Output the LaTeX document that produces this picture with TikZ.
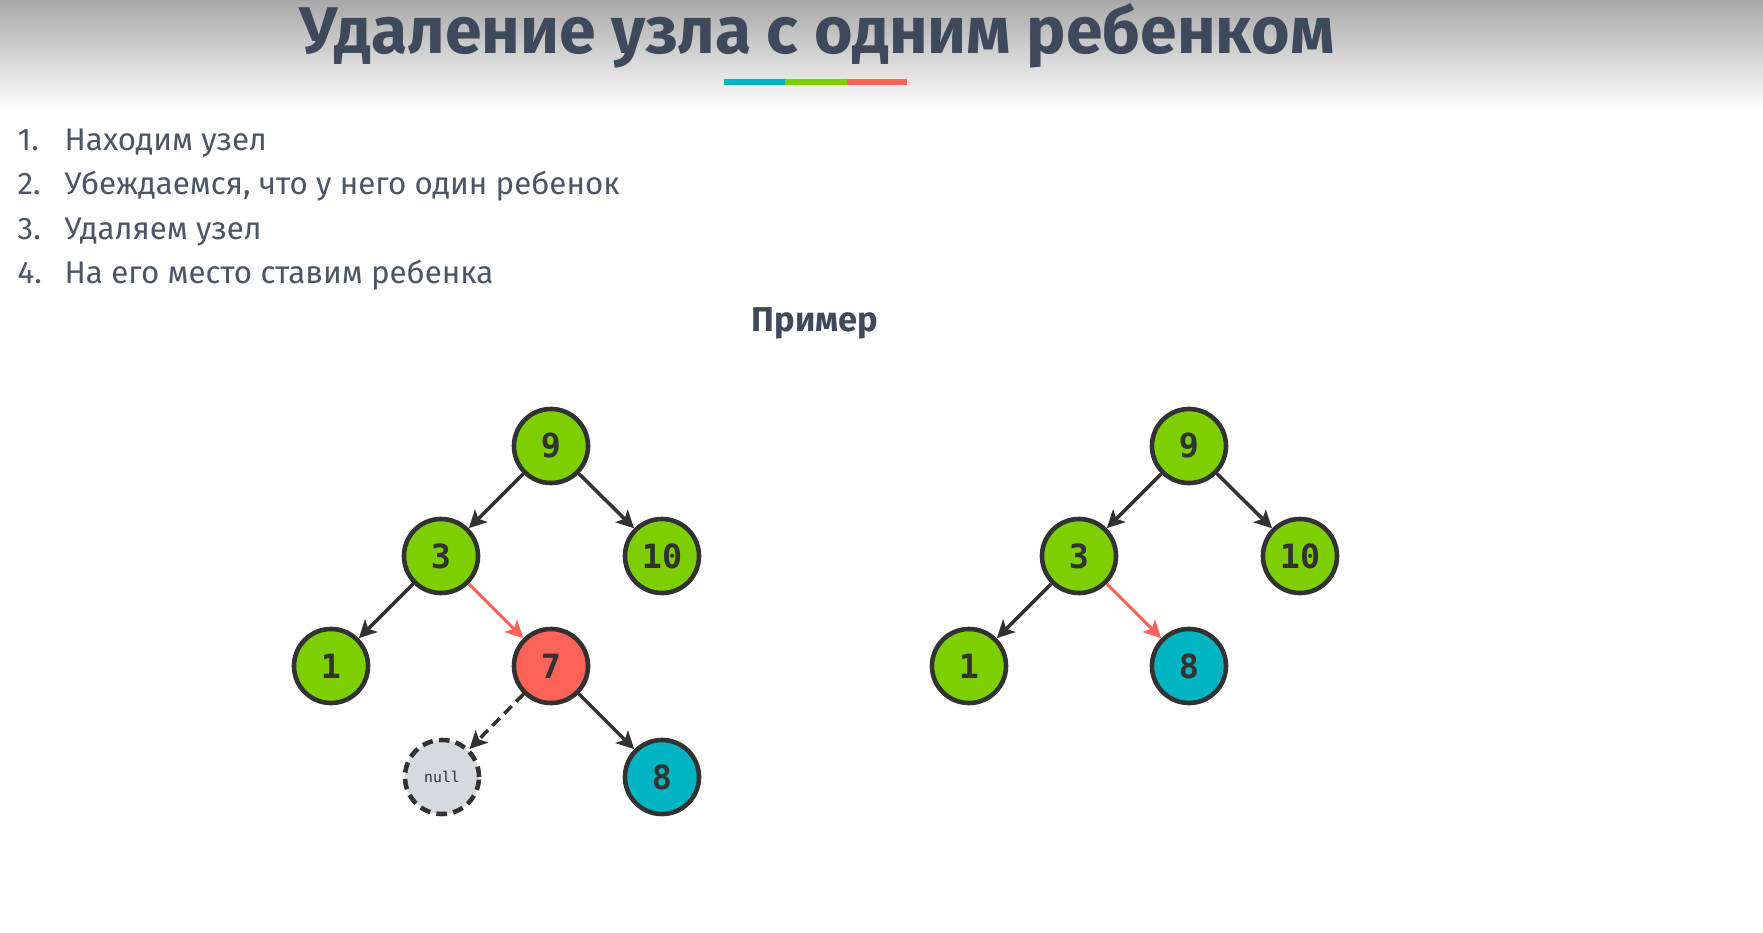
\documentclass[tikz,border=0pt]{standalone}
\usepackage{fontspec}
\setmainfont{Fira Sans}
\newfontfamily\digitfont{DejaVu Sans Mono}
\usetikzlibrary{arrows.meta}

\definecolor{slate}{HTML}{3E4A5B}
\definecolor{listgray}{HTML}{4B5566}
\definecolor{leafgreen}{HTML}{7ECF00}
\definecolor{tealblue}{HTML}{00B4C1}
\definecolor{coral}{HTML}{FF6358}
\definecolor{nullgray}{HTML}{D5DAE0}
\definecolor{inkgray}{HTML}{323232}

\tikzset{
  treenode/.style={circle, draw=inkgray, line width=1.3pt, minimum size=0.74cm,
    inner sep=0pt, text=inkgray, font=\digitfont\bfseries\fontsize{9.5}{10}\selectfont},
  greennode/.style={treenode, fill=leafgreen},
  rednode/.style={treenode, fill=coral},
  tealnode/.style={treenode, fill=tealblue},
  nullnode/.style={treenode, fill=nullgray, dash pattern=on 3pt off 1.8pt,
    font=\digitfont\fontsize{4.2}{5}\selectfont},
  link/.style={draw=inkgray, line width=1pt, -{Stealth[length=5pt, width=5pt, inset=1.2pt]}},
  redlink/.style={link, draw=coral, line width=0.85pt},
  nulllink/.style={link, dash pattern=on 3pt off 1.8pt},
  listtext/.style={anchor=base west, inner sep=0pt, text=listgray, font=\fontsize{8.9}{10}\selectfont}
}

\begin{document}
\begin{tikzpicture}[x=0.01cm, y=-0.01cm]
\useasboundingbox (0,0) rectangle (1763,933);
\fill[white] (0,0) rectangle (1763,933);
\shade[top color=black!34, bottom color=white] (0,0) rectangle (1763,110);

% title
\node[anchor=base, inner sep=0pt, text=slate, font=\bfseries\fontsize{18.8}{22}\selectfont] (title) at (817,53) {Удаление узла с одним ребенком};
\fill[tealblue] (724,79) rectangle (785,85);
\fill[leafgreen] (785,79) rectangle (847,85);
\fill[coral] (847,79) rectangle (907,85);

% steps
\node[listtext] (num1) at (17,150) {1.};
\node[listtext] (step1) at (64,150) {Находим узел};
\node[listtext] (num2) at (17,194) {2.};
\node[listtext] (step2) at (64,194) {Убеждаемся, что у него один ребенок};
\node[listtext] (num3) at (17,239) {3.};
\node[listtext] (step3) at (64,239) {Удаляем узел};
\node[listtext] (num4) at (17,283) {4.};
\node[listtext] (step4) at (64,283) {На его место ставим ребенка};

\node[anchor=base, inner sep=0pt, text=slate, font=\bfseries\fontsize{9.8}{11}\selectfont] (example) at (815,331) {Пример};

% tree before
\node[greennode] (a9) at (551,446) {9};
\node[greennode] (a3) at (441,556) {3};
\node[greennode] (a10) at (662,556) {10};
\node[greennode] (a1) at (331,666) {1};
\node[rednode] (a7) at (551,666) {7};
\node[nullnode] (anull) at (442,777) {null};
\node[tealnode] (a8) at (662,777) {8};

\draw[link] (a9) -- (a3);
\draw[link] (a9) -- (a10);
\draw[link] (a3) -- (a1);
\draw[redlink] (a3) -- (a7);
\draw[nulllink] (a7) -- (anull);
\draw[link] (a7) -- (a8);

% tree after
\node[greennode] (b9) at (1189,446) {9};
\node[greennode] (b3) at (1079,556) {3};
\node[greennode] (b10) at (1300,556) {10};
\node[greennode] (b1) at (969,666) {1};
\node[tealnode] (b8) at (1189,666) {8};

\draw[link] (b9) -- (b3);
\draw[link] (b9) -- (b10);
\draw[link] (b3) -- (b1);
\draw[redlink] (b3) -- (b8);
\end{tikzpicture}
\end{document}
